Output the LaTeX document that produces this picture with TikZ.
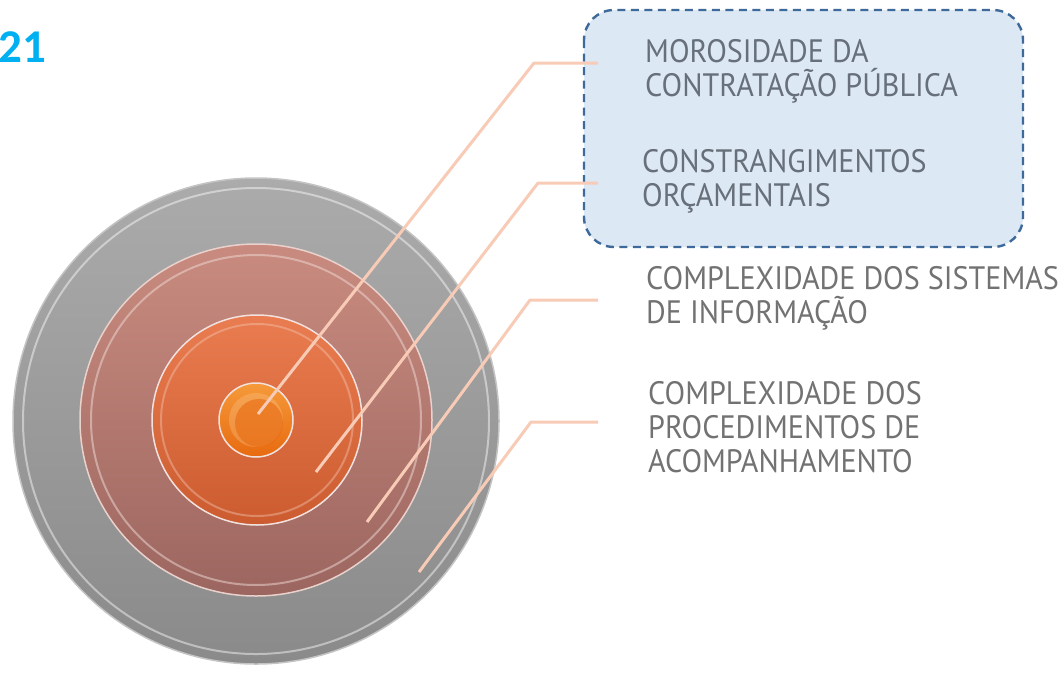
\documentclass[tikz,border=0pt]{standalone}
\usepackage{fontspec}
\newfontfamily\lab[FakeStretch=0.93]{PT Sans}
\newfontfamily\numfont{Carlito}
\usetikzlibrary{calc}
\definecolor{numblue}{HTML}{00B0F0}
\definecolor{boxfill}{HTML}{DDE8F5}
\definecolor{boxline}{HTML}{3D6A9A}
\definecolor{txtblue}{HTML}{67707A}
\definecolor{txtgray}{HTML}{727272}
\definecolor{leader}{HTML}{F8CBB6}
\definecolor{grayT}{HTML}{ABABAB}
\definecolor{grayB}{HTML}{8A8A8A}
\definecolor{roseT}{HTML}{C98B7F}
\definecolor{roseB}{HTML}{9C6660}
\definecolor{oranT}{HTML}{E97C50}
\definecolor{oranB}{HTML}{CC5C30}
\definecolor{coreT}{HTML}{F59A3A}
\definecolor{coreB}{HTML}{E86A10}
\tikzset{
  ring/.style={circle, inner sep=0pt, shading=axis, shading angle=0},
  leaderline/.style={draw=leader, line width=3pt, line join=round},
  label/.style={anchor=north west, inner sep=0pt, align=left,
    font=\lab\fontsize{32.4}{34}\selectfont},
}
\begin{document}
\begin{tikzpicture}[x=1pt,y=-1pt]
\useasboundingbox (0,0) rectangle (1064,672);
% number
\node[anchor=north west, inner sep=0pt, text=numblue, font=\numfont\bfseries\fontsize{47}{47}\selectfont] (num) at (-2,31) {21};
% highlight box
\draw[fill=boxfill, draw=boxline, line width=2.4pt, dash pattern=on 8pt off 5.5pt, rounded corners=30pt] (584,10) rectangle (1023,247);
% rings
\node[ring, minimum size=486pt, top color=grayT, bottom color=grayB, draw=grayT!70!white, line width=1.5pt] (r4) at (256,421) {};
\draw[white, opacity=0.45, line width=2pt] (r4.center) circle (233pt);
\node[ring, minimum size=352pt, top color=roseT, bottom color=roseB, draw=roseT!40!white, line width=1.5pt] (r3) at (256,420) {};
\draw[roseT!30!white, opacity=0.5, line width=2pt] (r3.center) circle (165pt);
\node[ring, minimum size=210pt, top color=oranT, bottom color=oranB, draw=roseT!25!white, line width=1.5pt] (r2) at (257,420) {};
\draw[oranT!40!white, opacity=0.4, line width=2pt] (r2.center) circle (96pt);
\node[ring, minimum size=74pt, top color=coreT, bottom color=coreB, draw=roseT!25!white, line width=1.5pt] (r1) at (256,420) {};
\fill[coreT!60!white, opacity=0.35] (r1.center) circle (27pt);
\fill[coreB, opacity=0.6] ($(r1.center)+(3,3)$) circle (24pt);
% leader coordinates
\coordinate (p1) at (258,414);
\coordinate (k1) at (534,63);
\coordinate (e1) at (598,63);
\coordinate (p2) at (316,472);
\coordinate (k2) at (538,183);
\coordinate (e2) at (598,183);
\coordinate (p3) at (367,522);
\coordinate (k3) at (530,300);
\coordinate (e3) at (598,300);
\coordinate (p4) at (419,572);
\coordinate (k4) at (531,422);
\coordinate (e4) at (598,422);
\draw[leaderline] (p1) -- (k1) -- (e1);
\draw[leaderline] (p2) -- (k2) -- (e2);
\draw[leaderline] (p3) -- (k3) -- (e3);
\draw[leaderline] (p4) -- (k4) -- (e4);
% labels
\node[label, text=txtblue] (t1) at (645,39.5) {MOROSIDADE DA\\CONTRATAÇÃO PÚBLICA};
\node[label, text=txtblue] (t2) at (642,149.5) {CONSTRANGIMENTOS\\ORÇAMENTAIS};
\node[label, text=txtgray] (t3) at (646,266.5) {COMPLEXIDADE DOS SISTEMAS\\DE INFORMAÇÃO};
\node[label, text=txtgray] (t4) at (648,381.5) {COMPLEXIDADE DOS\\PROCEDIMENTOS DE\\ACOMPANHAMENTO};
\end{tikzpicture}
\end{document}
